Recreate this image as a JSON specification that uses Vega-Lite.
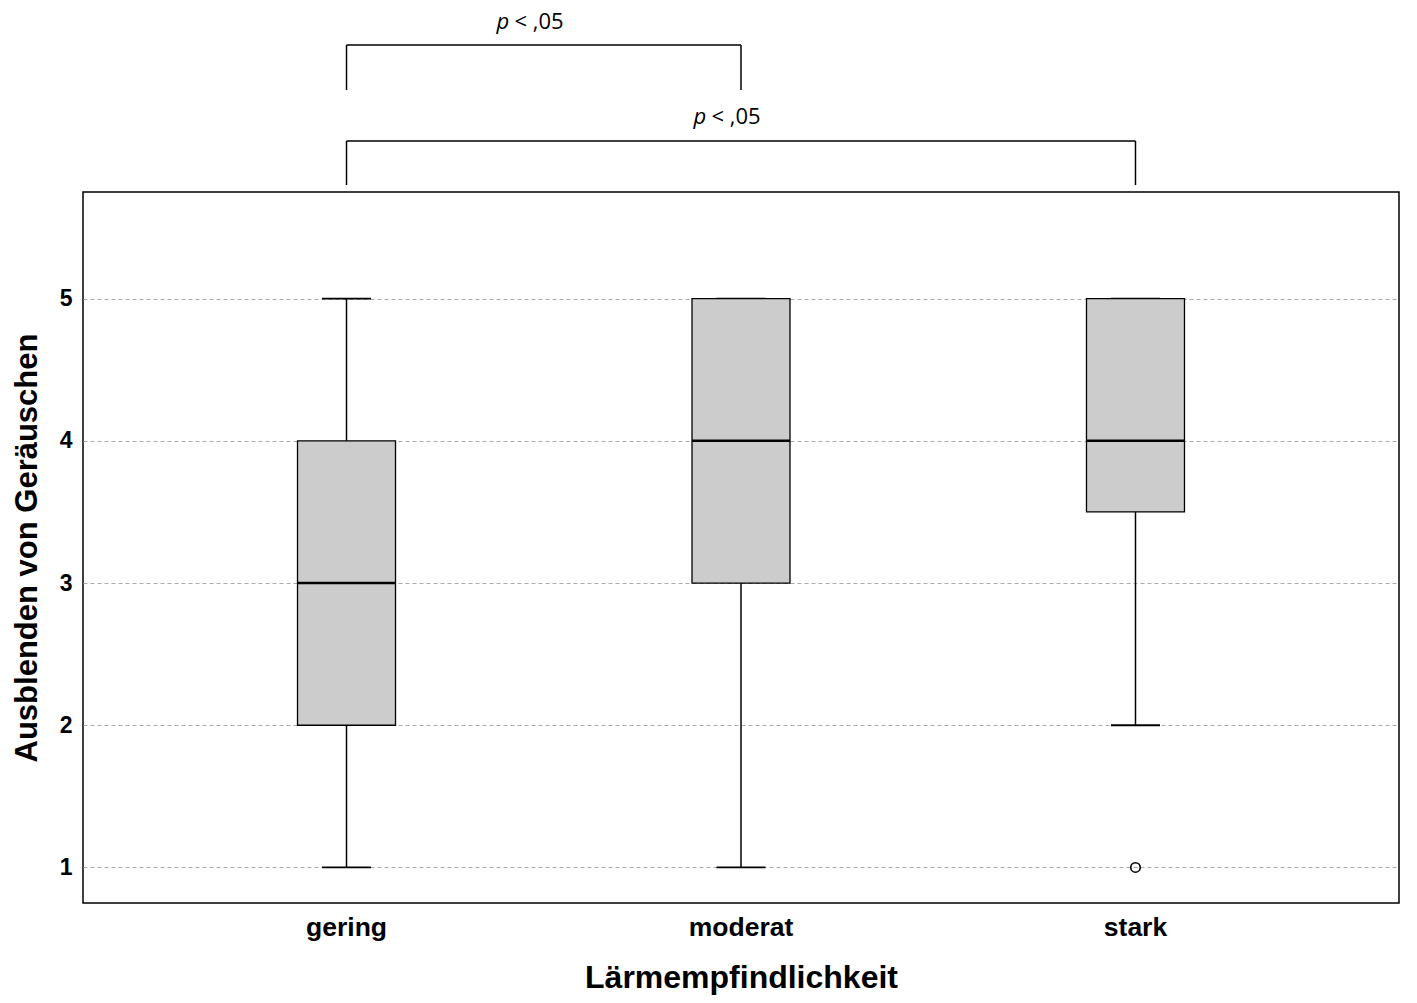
{
  "$schema": "https://vega.github.io/schema/vega-lite/v6.json",
  "autosize": "none",
  "width": 1316,
  "height": 711,
  "padding": {"left": 83, "top": 192, "right": 18, "bottom": 100},
  "background": "white",
  "config": {
    "view": {"stroke": "black", "strokeWidth": 1.5},
    "font": "Liberation Sans"
  },
  "datasets": {
    "boxes": [
      {"group": "gering", "min": 1, "q1": 2, "median": 3, "q3": 4, "max": 5},
      {"group": "moderat", "min": 1, "q1": 3, "median": 4, "q3": 5, "max": 5},
      {"group": "stark", "min": 2, "q1": 3.5, "median": 4, "q3": 5, "max": 5}
    ],
    "outliers": [
      {"group": "stark", "value": 1}
    ],
    "brackets": [
      {"from": "gering", "to": "moderat", "top": 6.784, "bottom": 6.467},
      {"from": "gering", "to": "stark", "top": 6.109, "bottom": 5.799}
    ]
  },
  "encoding": {
    "x": {
      "field": "group",
      "type": "nominal",
      "scale": {"domain": ["gering", "moderat", "stark"], "paddingInner": 0, "paddingOuter": 0.168},
      "axis": {
        "title": "Lärmempfindlichkeit",
        "labelAngle": 0,
        "labelFontSize": 26.5,
        "labelFontWeight": "bold",
        "labelColor": "black",
        "labelPadding": 11,
        "ticks": false,
        "domain": false,
        "titleFontSize": 32,
        "titleFontWeight": "bold",
        "titleColor": "black",
        "titlePadding": 22
      }
    }
  },
  "layer": [
    {
      "data": {"name": "boxes"},
      "mark": {"type": "rule", "color": "black", "strokeWidth": 1.5},
      "encoding": {
        "y": {
          "field": "min",
          "type": "quantitative",
          "scale": {"domain": [0.75, 5.75], "nice": false, "zero": false},
          "axis": {
            "title": "Ausblenden von Geräuschen",
            "values": [1, 2, 3, 4, 5],
            "format": "d",
            "labelFontSize": 23,
            "labelFontWeight": "bold",
            "labelColor": "black",
            "labelPadding": 11,
            "ticks": false,
            "domain": false,
            "grid": true,
            "gridColor": "#aaaaaa",
            "gridDash": [4, 3],
            "gridWidth": 1.2,
            "titleFontSize": 31,
            "titleFontWeight": "bold",
            "titleColor": "black",
            "titlePadding": 16
          }
        },
        "y2": {"field": "max"}
      }
    },
    {
      "data": {"name": "boxes"},
      "mark": {"type": "tick", "color": "black", "opacity": 1, "size": 49, "thickness": 1.8, "orient": "horizontal"},
      "encoding": {"y": {"field": "min", "type": "quantitative"}}
    },
    {
      "data": {"name": "boxes"},
      "mark": {"type": "tick", "color": "black", "opacity": 1, "size": 49, "thickness": 1.8, "orient": "horizontal"},
      "encoding": {"y": {"field": "max", "type": "quantitative"}}
    },
    {
      "data": {"name": "boxes"},
      "mark": {"type": "bar", "size": 98, "fill": "#cccccc", "opacity": 1, "stroke": "black", "strokeWidth": 1.3},
      "encoding": {
        "y": {"field": "q1", "type": "quantitative"},
        "y2": {"field": "q3"}
      }
    },
    {
      "data": {"name": "boxes"},
      "mark": {"type": "tick", "color": "black", "opacity": 1, "size": 98, "thickness": 2.5, "orient": "horizontal"},
      "encoding": {"y": {"field": "median", "type": "quantitative"}}
    },
    {
      "data": {"name": "outliers"},
      "mark": {"type": "point", "shape": "circle", "size": 90, "filled": false, "stroke": "black", "strokeWidth": 1.6, "opacity": 1},
      "encoding": {"y": {"field": "value", "type": "quantitative"}}
    },
    {
      "data": {"name": "brackets"},
      "mark": {"type": "rule", "color": "black", "strokeWidth": 1.5, "clip": false},
      "encoding": {
        "x": {"field": "from", "type": "nominal"},
        "x2": {"field": "to"},
        "y": {"field": "top", "type": "quantitative"}
      }
    },
    {
      "data": {"name": "brackets"},
      "mark": {"type": "rule", "color": "black", "strokeWidth": 1.5, "clip": false},
      "encoding": {
        "x": {"field": "from", "type": "nominal"},
        "y": {"field": "bottom", "type": "quantitative"},
        "y2": {"field": "top"}
      }
    },
    {
      "data": {"name": "brackets"},
      "mark": {"type": "rule", "color": "black", "strokeWidth": 1.5, "clip": false},
      "encoding": {
        "x": {"field": "to", "type": "nominal"},
        "y": {"field": "bottom", "type": "quantitative"},
        "y2": {"field": "top"}
      }
    },
    {
      "data": {"values": [{"group": "gering", "y": 6.945, "t": "p"}]},
      "mark": {"type": "text", "font": "Open Sans", "fontSize": 22, "fontStyle": "italic", "align": "left", "baseline": "middle", "dx": 150, "color": "black"},
      "encoding": {"y": {"field": "y", "type": "quantitative"}, "text": {"field": "t"}}
    },
    {
      "data": {"values": [{"group": "gering", "y": 6.945, "t": "< ,05"}]},
      "mark": {"type": "text", "font": "Open Sans", "fontSize": 22, "align": "left", "baseline": "middle", "dx": 168, "color": "black"},
      "encoding": {"y": {"field": "y", "type": "quantitative"}, "text": {"field": "t"}}
    },
    {
      "data": {"values": [{"group": "gering", "y": 6.277, "t": "p"}]},
      "mark": {"type": "text", "font": "Open Sans", "fontSize": 22, "fontStyle": "italic", "align": "left", "baseline": "middle", "dx": 347, "color": "black"},
      "encoding": {"y": {"field": "y", "type": "quantitative"}, "text": {"field": "t"}}
    },
    {
      "data": {"values": [{"group": "gering", "y": 6.277, "t": "< ,05"}]},
      "mark": {"type": "text", "font": "Open Sans", "fontSize": 22, "align": "left", "baseline": "middle", "dx": 365, "color": "black"},
      "encoding": {"y": {"field": "y", "type": "quantitative"}, "text": {"field": "t"}}
    }
  ]
}
